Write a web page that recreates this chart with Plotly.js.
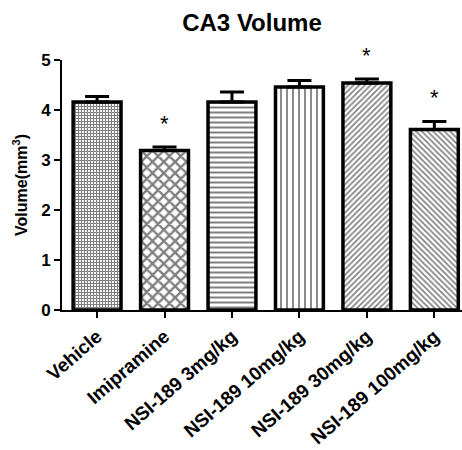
<!DOCTYPE html>
<html><head><meta charset="utf-8">
<script src="https://cdn.plot.ly/plotly-3.0.1.min.js"></script>
<style>html,body{margin:0;padding:0;background:#fff}#c{width:462px;height:450px}</style>
</head><body><div id="c"></div>
<script>
const categories = ["Vehicle","Imipramine","NSI-189 3mg/kg","NSI-189 10mg/kg","NSI-189 30mg/kg","NSI-189 100mg/kg"];
const volumes = [4.16, 3.19, 4.16, 4.46, 4.54, 3.61];
const sem = [0.11, 0.07, 0.20, 0.13, 0.08, 0.16];
const significant = [false, true, false, false, true, true];
const patterns = ["+", "x", "-", "|", "/", "\\"];

const F = "Arial, 'Liberation Sans', sans-serif";
const traces = categories.map((c, i) => ({
  type: "bar", x: [c], y: [volumes[i]], width: 0.71,
  marker: {color: "white", line: {color: "black", width: 3.5},
    pattern: {shape: patterns[i], fgcolor: "black", bgcolor: "white",
      size: [3, 8, 5, 6, 4, 4][i], solidity: [0.6, 0.5, 0.4, 0.3, 0.4, 0.4][i], fillmode: "overlay"}},
  error_y: {type: "data", symmetric: false, array: [sem[i]], arrayminus: [0], color: "black", thickness: 3, width: 12},
  showlegend: false, hoverinfo: "skip"
}));
const annotations = [];
categories.forEach((c, i) => {
  if (significant[i]) annotations.push({x: c, y: volumes[i] + sem[i], yshift: 24, text: "*", showarrow: false,
    font: {family: F, size: 22, color: "black"}, yanchor: "middle"});
});

const layout = {
  width: 462, height: 450,
  margin: {l: 62, r: 0, t: 60, b: 140},
  paper_bgcolor: "white", plot_bgcolor: "white",
  title: {text: "<b>CA3 Volume</b>", font: {family: F, size: 24, color: "black"}, x: 0.475, xref: "paper", xanchor: "center", y: 0.95, yanchor: "middle"},
  barmode: "overlay",
  annotations: annotations,
  xaxis: {type: "category", range: [-0.52, 5.41], showline: true, linecolor: "black", linewidth: 2,
    ticks: "outside", ticklen: 6, tickwidth: 2, tickcolor: "black", tickangle: -41,
    tickfont: {family: F, size: 19, color: "black", weight: "bold"}, showgrid: false, zeroline: false, fixedrange: true},
  yaxis: {range: [0, 5], showline: true, linecolor: "black", linewidth: 2, ticks: "outside", ticklen: 6, tickwidth: 2,
    tickcolor: "black", dtick: 1, tickfont: {family: F, size: 17, color: "black", weight: "bold"},
    title: {text: "<b>Volume(mm<sup>3</sup>)</b>", font: {family: F, size: 16, color: "black"}, standoff: 10},
    showgrid: false, zeroline: false, fixedrange: true}
};
Plotly.newPlot("c", traces, layout, {displayModeBar: false, staticPlot: true});
</script></body></html>
